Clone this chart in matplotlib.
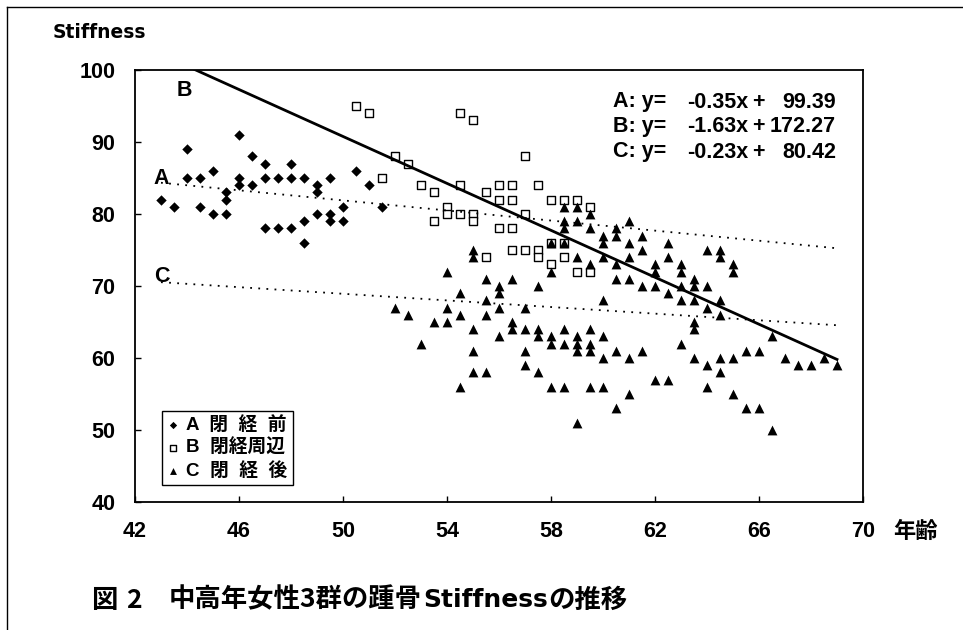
import matplotlib
matplotlib.use("Agg")

import matplotlib.pyplot as plt
from matplotlib.lines import Line2D

# group A (pre-menopause)
a_age = [43, 43.5, 44, 44, 44.5, 44.5, 45, 45, 45.5, 45.5, 45.5, 46, 46, 46,
         46.5, 46.5, 47, 47, 47, 47.5, 47.5, 48, 48, 48, 48.5, 48.5, 48.5,
         49, 49, 49, 49.5, 49.5, 49.5, 50, 50, 50.5, 51, 51.5]
a_stiff = [82, 81, 89, 85, 85, 81, 86, 80, 83, 82, 80, 91, 85, 84,
           88, 84, 87, 85, 78, 85, 78, 87, 85, 78, 85, 79, 76,
           84, 83, 80, 85, 80, 79, 81, 79, 86, 84, 81]

# group B (peri-menopause)
b_age = [50.5, 51, 51.5, 52, 52.5, 53, 53.5, 53.5, 54, 54, 54.5, 54.5, 54.5,
         55, 55, 55, 55.5, 55.5, 56, 56, 56, 56.5, 56.5, 56.5, 56.5,
         57, 57, 57, 57.5, 57.5, 57.5, 58, 58, 58, 58.5, 58.5, 58.5,
         59, 59, 59.5, 59.5]
b_stiff = [95, 94, 85, 88, 87, 84, 83, 79, 81, 80, 94, 84, 80,
           93, 80, 79, 83, 74, 84, 82, 78, 84, 82, 78, 75,
           88, 80, 75, 84, 75, 74, 82, 76, 73, 82, 76, 74,
           82, 72, 81, 72]

# group C (post-menopause)
c_age = [52, 52.5, 53, 53.5,
         54, 54, 54, 54.5, 54.5, 54.5,
         55, 55, 55, 55, 55, 55.5, 55.5, 55.5, 55.5,
         56, 56, 56, 56, 56.5, 56.5, 56.5,
         57, 57, 57, 57, 57.5, 57.5, 57.5, 57.5,
         58, 58, 58, 58, 58,
         58.5, 58.5, 58.5, 58.5, 58.5, 58.5, 58.5,
         59, 59, 59, 59, 59, 59, 59,
         59.5, 59.5, 59.5, 59.5, 59.5, 59.5, 59.5,
         60, 60, 60, 60, 60, 60, 60,
         60.5, 60.5, 60.5, 60.5, 60.5, 60.5,
         61, 61, 61, 61, 61, 61,
         61.5, 61.5, 61.5, 61.5, 62, 62, 62, 62, 62.5, 62.5, 62.5, 62.5,
         63, 63, 63, 63, 63, 63.5, 63.5, 63.5, 63.5, 63.5, 63.5,
         64, 64, 64, 64, 64, 64.5, 64.5, 64.5, 64.5, 64.5, 64.5,
         65, 65, 65, 65, 65.5, 65.5, 66, 66, 66.5, 66.5,
         67, 67.5, 68, 68.5, 69]
c_stiff = [67, 66, 62, 65,
           72, 67, 65, 69, 66, 56,
           75, 74, 64, 61, 58, 71, 68, 66, 58,
           70, 69, 67, 63, 71, 65, 64,
           67, 64, 61, 59, 70, 64, 63, 58,
           76, 72, 63, 62, 56,
           81, 79, 78, 76, 64, 62, 56,
           81, 79, 74, 63, 62, 61, 51,
           80, 78, 73, 64, 62, 61, 56,
           77, 76, 74, 68, 63, 60, 56,
           78, 77, 73, 71, 61, 53,
           79, 76, 74, 71, 60, 55,
           77, 75, 70, 61, 73, 72, 70, 57, 76, 74, 69, 57,
           73, 72, 70, 68, 62, 71, 70, 68, 65, 64, 60,
           75, 70, 67, 59, 56, 75, 74, 68, 66, 60, 58,
           73, 72, 60, 55, 61, 53, 61, 53, 63, 50,
           60, 59, 59, 60, 59]

# regression lines y = slope*x + icpt
fit_names = ["A", "B", "C"]
fit_slope = [-0.35, -1.63, -0.23]
fit_icpt = [99.39, 172.27, 80.42]
fit_x = [43, 69]

x_ticks = [42, 46, 50, 54, 58, 62, 66, 70]
y_ticks = [40, 50, 60, 70, 80, 90, 100]

W, H = 963, 630
CJK = ["Noto Sans CJK JP", "DejaVu Sans"]
plt.rcParams["font.family"] = ["Liberation Sans", "Noto Sans CJK JP", "DejaVu Sans"]
plt.rcParams["font.weight"] = "bold"


def fx(px):
    return px / W


def fy(py):
    return 1 - py / H


fig = plt.figure(figsize=(W / 100, H / 100), dpi=100)
ax = fig.add_axes([fx(135), fy(502), (863 - 135) / W, (502 - 70) / H])

sa = ax.scatter(a_age, a_stiff, marker="D", s=28, c="k", linewidths=0, zorder=3)
sb = ax.scatter(b_age, b_stiff, marker="s", s=28, facecolors="white",
                edgecolors="k", linewidths=1, zorder=3)
sc = ax.scatter(c_age, c_stiff, marker="^", s=50, c="k", linewidths=0, zorder=3)

for name, m, b in zip(fit_names, fit_slope, fit_icpt):
    ys = [m * x + b for x in fit_x]
    if name == "B":
        ax.plot(fit_x, ys, color="k", lw=2, zorder=4)
    else:
        ax.plot(fit_x, ys, color="k", lw=1.3, ls=(0, (1, 3.5)), zorder=4)

ax.set_xlim(42, 70)
ax.set_ylim(40, 100)
ax.set_xticks(x_ticks)
ax.set_yticks(y_ticks)
ax.tick_params(direction="in", length=4.5, width=1, labelsize=15.5)
ax.tick_params(axis="x", pad=14)
ax.tick_params(axis="y", pad=14)
for sp in ax.spines.values():
    sp.set_linewidth(1.3)

leg = ax.legend([sa, sb, sc], ["A  閉  経  前", "B  閉経周辺", "C  閉  経  後"],
                loc="lower left", bbox_to_anchor=(0.037, 0.039), borderaxespad=0,
                fancybox=False, framealpha=1, edgecolor="k", markerscale=0.7,
                handlelength=0.6, handletextpad=0.4, labelspacing=0.25,
                borderpad=0.3, prop={"size": 13.5, "weight": "bold"})
leg.get_frame().set_linewidth(1)

# equations
eq_y = [102, 127, 152]
for name, m, b, yy in zip(fit_names, fit_slope, fit_icpt, eq_y):
    fig.text(fx(613), fy(yy), name + ": y=", fontsize=15.5, va="center")
    fig.text(fx(748), fy(yy), "%.2fx" % m, fontsize=15.5, va="center", ha="right")
    fig.text(fx(752), fy(yy), "+", fontsize=15.5, va="center")
    fig.text(fx(836), fy(yy), "%.2f" % b, fontsize=15.5, va="center", ha="right")

# line labels
fig.text(fx(177), fy(91), "B", fontsize=15.5, va="center")
fig.text(fx(153), fy(178), "A", fontsize=15.5, va="center")
fig.text(fx(154), fy(276), "C", fontsize=15.5, va="center")

fig.text(fx(53), fy(32), "Stiffness", fontsize=13.5, va="center", family=["DejaVu Sans"])
fig.text(fx(893), fy(531), "年齢", fontsize=16, va="center", family=CJK)

# caption: fixed starts for the first pieces, the rest follows on
renderer = fig.canvas.get_renderer()
fig.text(fx(91), fy(600), "図", fontsize=19, va="center", family=CJK)
fig.text(fx(126), fy(600), "2", fontsize=19, va="center", family=CJK)
cap_rest = [("中高年女性3群の踵骨", CJK, 19), ("Stiffness", ["DejaVu Sans"], 18),
            ("の推移", CJK, 19)]
x0 = 169
for txt, fam, fs in cap_rest:
    t = fig.text(fx(x0), fy(600), txt, fontsize=fs, va="center", family=fam)
    x0 = t.get_window_extent(renderer).x1 + 1

# outer frame
fig.add_artist(Line2D([fx(7), fx(7)], [fy(7), 0], transform=fig.transFigure, color="k", lw=1))
fig.add_artist(Line2D([fx(7), 1], [fy(7), fy(7)], transform=fig.transFigure, color="k", lw=1))

fig.savefig("out.png", dpi=100)
plt.close()
